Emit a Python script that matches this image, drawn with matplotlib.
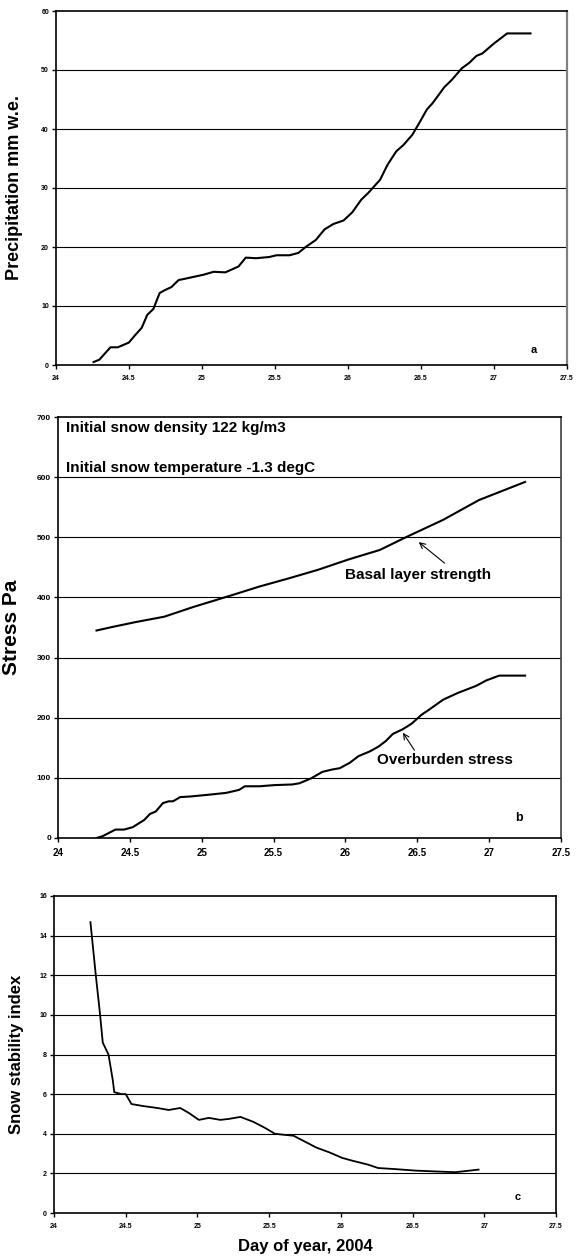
import matplotlib
matplotlib.use("Agg")
import matplotlib.pyplot as plt

plt.rcParams['font.family'] = ['Liberation Sans', 'DejaVu Sans']
plt.rcParams['font.weight'] = 'bold'

# Panel a: cumulative precipitation
precip_day = [24.257, 24.297, 24.373, 24.423, 24.499, 24.54, 24.587, 24.625, 24.667, 24.71,
              24.75, 24.79, 24.84, 24.88, 25.01, 25.08, 25.16, 25.25, 25.30, 25.37,
              25.46, 25.51, 25.60, 25.66, 25.71, 25.78, 25.84, 25.90, 25.97, 26.03,
              26.09, 26.14, 26.22, 26.27, 26.33, 26.38, 26.44, 26.49, 26.54, 26.58,
              26.66, 26.71, 26.78, 26.83, 26.88, 26.92, 27.00, 27.09, 27.25]
precip_mm = [0.5, 0.9, 3.0, 3.0, 3.8, 5.0, 6.3, 8.5, 9.5, 12.2,
             12.75, 13.2, 14.4, 14.6, 15.3, 15.8, 15.7, 16.7, 18.2, 18.1,
             18.3, 18.6, 18.6, 19.0, 20.0, 21.2, 23.0, 23.9, 24.5, 25.9,
             28.0, 29.2, 31.4, 33.9, 36.2, 37.3, 39.0, 41.1, 43.3, 44.4,
             47.1, 48.3, 50.3, 51.2, 52.4, 52.8, 54.5, 56.2, 56.2]

# Panel b: stresses
basal_day = [24.268, 24.38, 24.54, 24.74, 24.94, 25.20, 25.40, 25.61, 25.81, 26.02,
             26.24, 26.42, 26.68, 26.93, 27.25]
basal_pa = [345, 351, 359, 368, 384, 403, 418, 432, 446, 463,
            479, 500, 529, 562, 592]

over_day = [24.268, 24.31, 24.40, 24.46, 24.52, 24.60, 24.64, 24.68, 24.73, 24.77,
            24.80, 24.85, 24.92, 25.05, 25.17, 25.26, 25.30, 25.40, 25.51, 25.63,
            25.68, 25.76, 25.84, 25.91, 25.96, 26.03, 26.09, 26.17, 26.23, 26.28,
            26.33, 26.40, 26.46, 26.53, 26.58, 26.68, 26.78, 26.91, 26.98, 27.07, 27.25]
over_pa = [0, 3, 14, 14, 18, 30, 40, 44, 58, 61,
           61, 68, 69, 72, 75, 80, 86, 86, 88, 89,
           91, 99, 110, 114, 116, 125, 136, 144, 152, 161,
           173, 181, 190, 205, 213, 230, 241, 253, 262, 270, 270]

# Panel c: stability index
stab_day = [24.254, 24.29, 24.32, 24.34, 24.38, 24.41, 24.42, 24.47, 24.50, 24.54,
            24.62, 24.72, 24.80, 24.88, 24.94, 25.01, 25.08, 25.16, 25.22, 25.30,
            25.39, 25.47, 25.54, 25.60, 25.67, 25.75, 25.83, 25.92, 26.01, 26.08,
            26.19, 26.26, 26.37, 26.52, 26.65, 26.80, 26.96]
stab_idx = [14.68, 12.1, 10.1, 8.6, 8.0, 6.7, 6.1, 6.0, 6.0, 5.5,
            5.4, 5.3, 5.2, 5.3, 5.05, 4.7, 4.8, 4.7, 4.75, 4.85,
            4.6, 4.3, 4.0, 3.95, 3.9, 3.6, 3.3, 3.06, 2.78, 2.64,
            2.44, 2.27, 2.22, 2.14, 2.1, 2.06, 2.19]

x_ticks = [24, 24.5, 25, 25.5, 26, 26.5, 27, 27.5]
x_ticklabels = ['24', '24.5', '25', '25.5', '26', '26.5', '27', '27.5']

W, H = 577, 1258
fig = plt.figure(figsize=(W / 100, H / 100), dpi=100)


def make_ax(l, r, t, b):
    return fig.add_axes([l / W, 1 - b / H, (r - l) / W, (b - t) / H])


def style(ax, ymax, ystep, yfs, xfs):
    ax.set_xlim(24, 27.5)
    ax.set_ylim(0, ymax)
    ax.set_xticks(x_ticks)
    ax.set_xticklabels(x_ticklabels)
    ax.set_yticks(list(range(0, ymax + 1, ystep)))
    for v in range(ystep, ymax, ystep):
        ax.axhline(v, color='black', lw=0.8, zorder=1)
    ax.tick_params(axis='both', direction='out', length=3, width=1, pad=2)
    ax.tick_params(axis='x', labelsize=xfs, pad=4)
    ax.tick_params(axis='y', labelsize=yfs)
    for lab in ax.get_xticklabels() + ax.get_yticklabels():
        lab.set_fontweight('bold')
    for s in ax.spines.values():
        s.set_linewidth(1.2)
        s.set_color('black')


# Panel a
axa = make_ax(56, 567, 11, 365)
style(axa, 60, 10, 5, 5)
axa.spines['right'].set_color('#808080')
axa.spines['right'].set_linewidth(1.6)
axa.plot(precip_day, precip_mm, color='black', lw=1.5, zorder=3)
axa.set_ylabel('Precipitation mm w.e.', fontsize=13, fontweight='bold')
axa.yaxis.set_label_coords((23 - 56) / 511, 0.5)
axa.text(27.27, 2.6, 'a', fontsize=8, fontweight='bold', ha='center', va='center')

# Panel b
axb = make_ax(58, 561, 417, 838)
style(axb, 700, 100, 6, 7)
axb.spines['right'].set_color('#404040')
axb.plot(basal_day, basal_pa, color='black', lw=1.5, zorder=3)
axb.plot(over_day, over_pa, color='black', lw=1.5, zorder=3)
axb.set_ylabel('Stress Pa', fontsize=15, fontweight='bold')
axb.yaxis.set_label_coords((21 - 58) / 503, 0.5)
axb.text(24.056, 675, 'Initial snow density 122 kg/m3', fontsize=11, fontweight='bold',
         ha='left', va='baseline')
axb.text(24.056, 608, 'Initial snow temperature -1.3 degC', fontsize=11, fontweight='bold',
         ha='left', va='baseline')
axb.text(26.00, 437, 'Basal layer strength', fontsize=11, fontweight='bold',
         ha='left', va='center')
axb.annotate('', xy=(26.51, 492), xytext=(26.69, 457),
             arrowprops=dict(arrowstyle='->', color='black', lw=0.8,
                             shrinkA=0, shrinkB=0))
axb.text(26.22, 130, 'Overburden stress', fontsize=11, fontweight='bold',
         ha='left', va='center')
axb.annotate('', xy=(26.40, 175), xytext=(26.48, 146),
             arrowprops=dict(arrowstyle='->', color='black', lw=0.8,
                             shrinkA=0, shrinkB=0))
axb.text(27.21, 33, 'b', fontsize=9, fontweight='bold', ha='center', va='center')

# Panel c
axc = make_ax(54, 556, 896, 1213)
style(axc, 16, 2, 5, 5)
axc.plot(stab_day, stab_idx, color='black', lw=1.3, zorder=3)
axc.set_ylabel('Snow stability index', fontsize=12, fontweight='bold')
axc.yaxis.set_label_coords((24 - 54) / 502, 0.5)
axc.set_xlabel('Day of year, 2004', fontsize=12, fontweight='bold')
axc.xaxis.set_label_coords(0.5, -(1239 - 1213) / 317)
axc.text(27.23, 0.8, 'c', fontsize=8, fontweight='bold', ha='center', va='center')

fig.savefig('out.png', dpi=100)
